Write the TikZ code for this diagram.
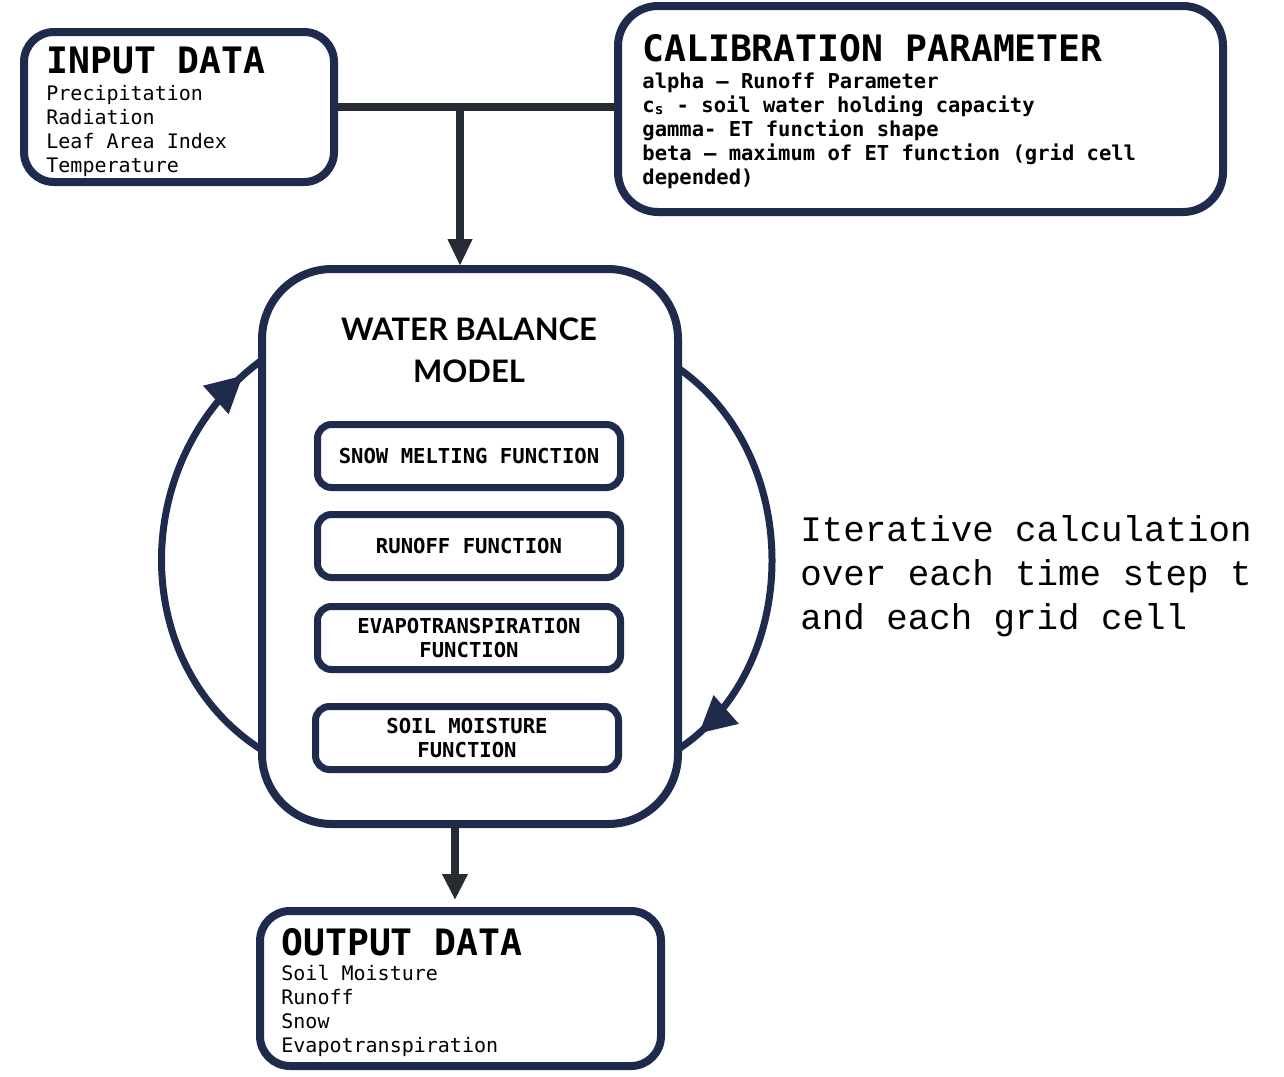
\documentclass[tikz,border=0pt]{standalone}
\usepackage{fontspec}
\usetikzlibrary{arrows.meta,decorations.markings}
\newfontfamily\monoF{DejaVu Sans Mono}
\newfontfamily\courF{Liberation Mono}
\newfontfamily\latoF{Lato}
\definecolor{navy}{HTML}{1F2B4D}
\definecolor{connc}{HTML}{272B33}
\tikzset{
 bigbox/.style={draw=navy, line width=4pt, fill=white, inner sep=0pt},
 fnbox/.style={draw=navy, line width=3.5pt, rounded corners=7pt, minimum width=151.5pt, minimum height=31.5pt, inner sep=0pt, align=center, font=\monoF\bfseries\fontsize{10.3}{12}\selectfont},
 ttl/.style={anchor=base west, inner sep=0pt, font=\monoF\bfseries\fontsize{18.2}{20}\selectfont},
 bdy/.style={anchor=base west, inner sep=0pt, font=\monoF\fontsize{10}{12}\selectfont},
 cbdy/.style={anchor=base west, inner sep=0pt, font=\monoF\bfseries\fontsize{10.25}{12}\selectfont},
 connl/.style={draw=connc, line width=4pt},
 looparc/.style={draw=navy, line width=3.5pt, decoration={markings, mark=at position #1 with {\arrow[navy, fill=navy, line width=0.6pt]{Triangle[length=18pt,width=19pt]}}}, postaction={decorate}},
 itx/.style={anchor=base west, inner sep=0pt, font=\courF\fontsize{17.9}{22}\selectfont},
}
\begin{document}
\begin{tikzpicture}[x=0.5pt,y=-0.5pt]
\useasboundingbox[fill=white] (0,0) rectangle (1284,1076);

% loops (behind boxes)
\coordinate (la) at (262,750);
\coordinate (lb) at (262,360);
\coordinate (ra) at (678,368);
\coordinate (rb) at (680,748);
\draw[looparc=0.945] (la) .. controls (128,665) and (128,458) .. (lb);
\draw[looparc=0.945] (ra) .. controls (803,455) and (803,665) .. (rb);

% boxes
\node[bigbox, rounded corners=15pt, minimum width=155pt, minimum height=75pt] (input) at (179,107) {};
\node[bigbox, rounded corners=20pt, minimum width=302.5pt, minimum height=103pt] (calib) at (920.5,109) {};
\node[bigbox, rounded corners=35pt, minimum width=208pt, minimum height=277.5pt] (main) at (470,546.5) {};
\node[bigbox, rounded corners=15pt, minimum width=200.5pt, minimum height=77.5pt] (output) at (460.5,988.5) {};

% connectors
\coordinate (j) at (460,107);
\draw[connl] (input.east |- j) -- (calib.west |- j);
\draw[connl, -{Triangle[length=13.5pt,width=11.5pt]}] (j) -- ([yshift=-0.5pt]j |- main.north);
\coordinate (m) at (455,824);
\draw[connl, -{Triangle[length=13pt,width=12pt]}] (m) -- (455,900);

% input text
\node[ttl] (inT) at (46,73) {INPUT DATA};
\node[bdy] (in1) at (46,100) {Precipitation};
\node[bdy] (in2) at (46,124) {Radiation};
\node[bdy] (in3) at (46,148) {Leaf Area Index};
\node[bdy] (in4) at (46,172) {Temperature};

% calibration text
\node[ttl] (caT) at (642,61) {CALIBRATION PARAMETER};
\node[cbdy] (ca1) at (642,88) {alpha – Runoff Parameter};
\node[cbdy] (ca2) at (642,112) {c\textsubscript{s} - soil water holding capacity};
\node[cbdy] (ca3) at (642,136) {gamma- ET function shape};
\node[cbdy] (ca4) at (642,160) {beta – maximum of ET function (grid cell};
\node[cbdy] (ca5) at (642,184) {depended)};

% water balance model
\node[inner sep=0pt, align=center, font=\latoF\bfseries\fontsize{15.5}{21}\selectfont] (wbm) at (469,350) {WATER BALANCE\\MODEL};
\node[fnbox] (snow) at (469,456) {SNOW MELTING FUNCTION};
\node[fnbox] (runoff) at (469,546) {RUNOFF FUNCTION};
\node[fnbox] (evap) at (469,638) {EVAPOTRANSPIRATION\\FUNCTION};
\node[fnbox] (soil) at (467,738) {SOIL MOISTURE\\FUNCTION};

% output text
\node[ttl] (ouT) at (281,955) {OUTPUT DATA};
\node[bdy] (ou1) at (281,980) {Soil Moisture};
\node[bdy] (ou2) at (281,1004) {Runoff};
\node[bdy] (ou3) at (281,1028) {Snow};
\node[bdy] (ou4) at (281,1052) {Evapotranspiration};

% iterative text
\node[itx] (it1) at (800,541) {Iterative calculation};
\node[itx] (it2) at (800,585) {over each time step t};
\node[itx] (it3) at (800,629) {and each grid cell};
\end{tikzpicture}
\end{document}
